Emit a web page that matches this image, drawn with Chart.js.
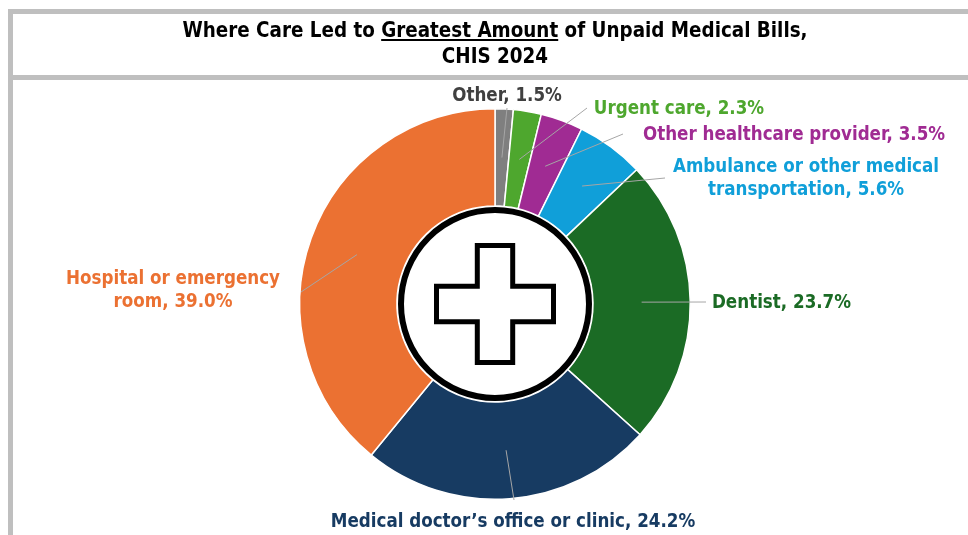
<!DOCTYPE html>
<html><head><meta charset="utf-8">
<style>
html,body{margin:0;padding:0;background:#fff;overflow:hidden}
#wrap{position:relative;width:968px;height:535px;overflow:hidden}
canvas{position:absolute;left:0;top:0}
.bar{position:absolute;background:#BFBFBF}
#title{position:absolute;left:0;width:990px;top:17px;text-align:center;font:bold 20.4px/26px 'DejaVu Sans Condensed','DejaVu Sans';font-stretch:condensed;color:#000}
</style></head><body>
<div id="wrap">
<canvas id="c" width="968" height="535"></canvas>
<div class="bar" style="left:8px;top:9px;width:960px;height:5px"></div>
<div class="bar" style="left:8px;top:9px;width:5px;height:526px"></div>
<div class="bar" style="left:8px;top:75px;width:960px;height:5px"></div>
<div id="title">Where Care Led to <u>Greatest Amount</u> of Unpaid Medical Bills,<br>CHIS 2024</div>
</div>
<script src="https://cdn.jsdelivr.net/npm/chart.js@4/dist/chart.umd.min.js"></script>
<script>
const categories = ['Other','Urgent care','Other healthcare provider','Ambulance or other medical transportation','Dentist',"Medical doctor’s office or clinic",'Hospital or emergency room'];
const values = [1.5,2.3,3.5,5.6,23.7,24.2,39.0];
const sliceColors = ['#7F7F7F','#4EA72E','#A02B93','#109FD9','#1B6B25','#173B62','#EB7132'];
const textColors = ['#404040','#4EA72E','#A02B93','#109FD9','#1B6B25','#173B62','#EB7132'];
const labelLines = [['Other, 1.5%'],['Urgent care, 2.3%'],['Other healthcare provider, 3.5%'],['Ambulance or other medical','transportation, 5.6%'],['Dentist, 23.7%'],['Medical doctor’s office or clinic, 24.2%'],['Hospital or emergency','room, 39.0%']];
const labelCenters = [[507,96],[679,109],[794,135],[806,167],[781.5,303],[513,522],[173,279]];
const leaderEnds = [[507,108],[587,108],[623,134],[665,178],[706,302],[514,500],[301,292]];

const decor = {
  id:'decor',
  afterDatasetsDraw(chart){
    const ctx = chart.ctx, arcs = chart.getDatasetMeta(0).data;
    const cx = arcs[0].x, cy = arcs[0].y, r = arcs[0].innerRadius;
    ctx.save();
    // leader lines
    ctx.strokeStyle='#A6A6A6'; ctx.lineWidth=1;
    arcs.forEach((a,i)=>{
      const p=a.tooltipPosition();
      ctx.beginPath(); ctx.moveTo(p.x,p.y); ctx.lineTo(leaderEnds[i][0],leaderEnds[i][1]); ctx.stroke();
    });
    // centre disc
    ctx.beginPath(); ctx.arc(cx,cy,r,0,Math.PI*2); ctx.fillStyle='#fff'; ctx.fill();
    ctx.beginPath(); ctx.arc(cx,cy,r-4,0,Math.PI*2); ctx.strokeStyle='#000'; ctx.lineWidth=6; ctx.stroke();
    // cross
    const a=58.5, b=17.7;
    ctx.beginPath();
    [[-b,-a],[b,-a],[b,-b],[a,-b],[a,b],[b,b],[b,a],[-b,a],[-b,b],[-a,b],[-a,-b],[-b,-b]].forEach((q,i)=>{
      const X=cx+q[0],Y=cy+q[1]; i?ctx.lineTo(X,Y):ctx.moveTo(X,Y);
    });
    ctx.closePath(); ctx.strokeStyle='#000'; ctx.lineWidth=5; ctx.lineJoin='miter'; ctx.stroke();
    // labels
    ctx.font="bold 18.6px 'DejaVu Sans Condensed','DejaVu Sans'";
    ctx.textAlign='center'; ctx.textBaseline='middle';
    labelLines.forEach((lines,i)=>{
      ctx.fillStyle=textColors[i];
      lines.forEach((t,j)=>ctx.fillText(t,labelCenters[i][0],labelCenters[i][1]+j*23));
    });
    ctx.restore();
  }
};

new Chart(document.getElementById('c'),{
  type:'doughnut',
  data:{labels:categories,datasets:[{data:values,backgroundColor:sliceColors,borderColor:'#fff',borderWidth:1.5}]},
  options:{
    responsive:false,animation:false,cutout:98,
    layout:{padding:{left:299,right:277,top:108,bottom:35}},
    plugins:{legend:{display:false},tooltip:{enabled:false},title:{display:false}}
  },
  plugins:[decor]
});
</script>
</body></html>
